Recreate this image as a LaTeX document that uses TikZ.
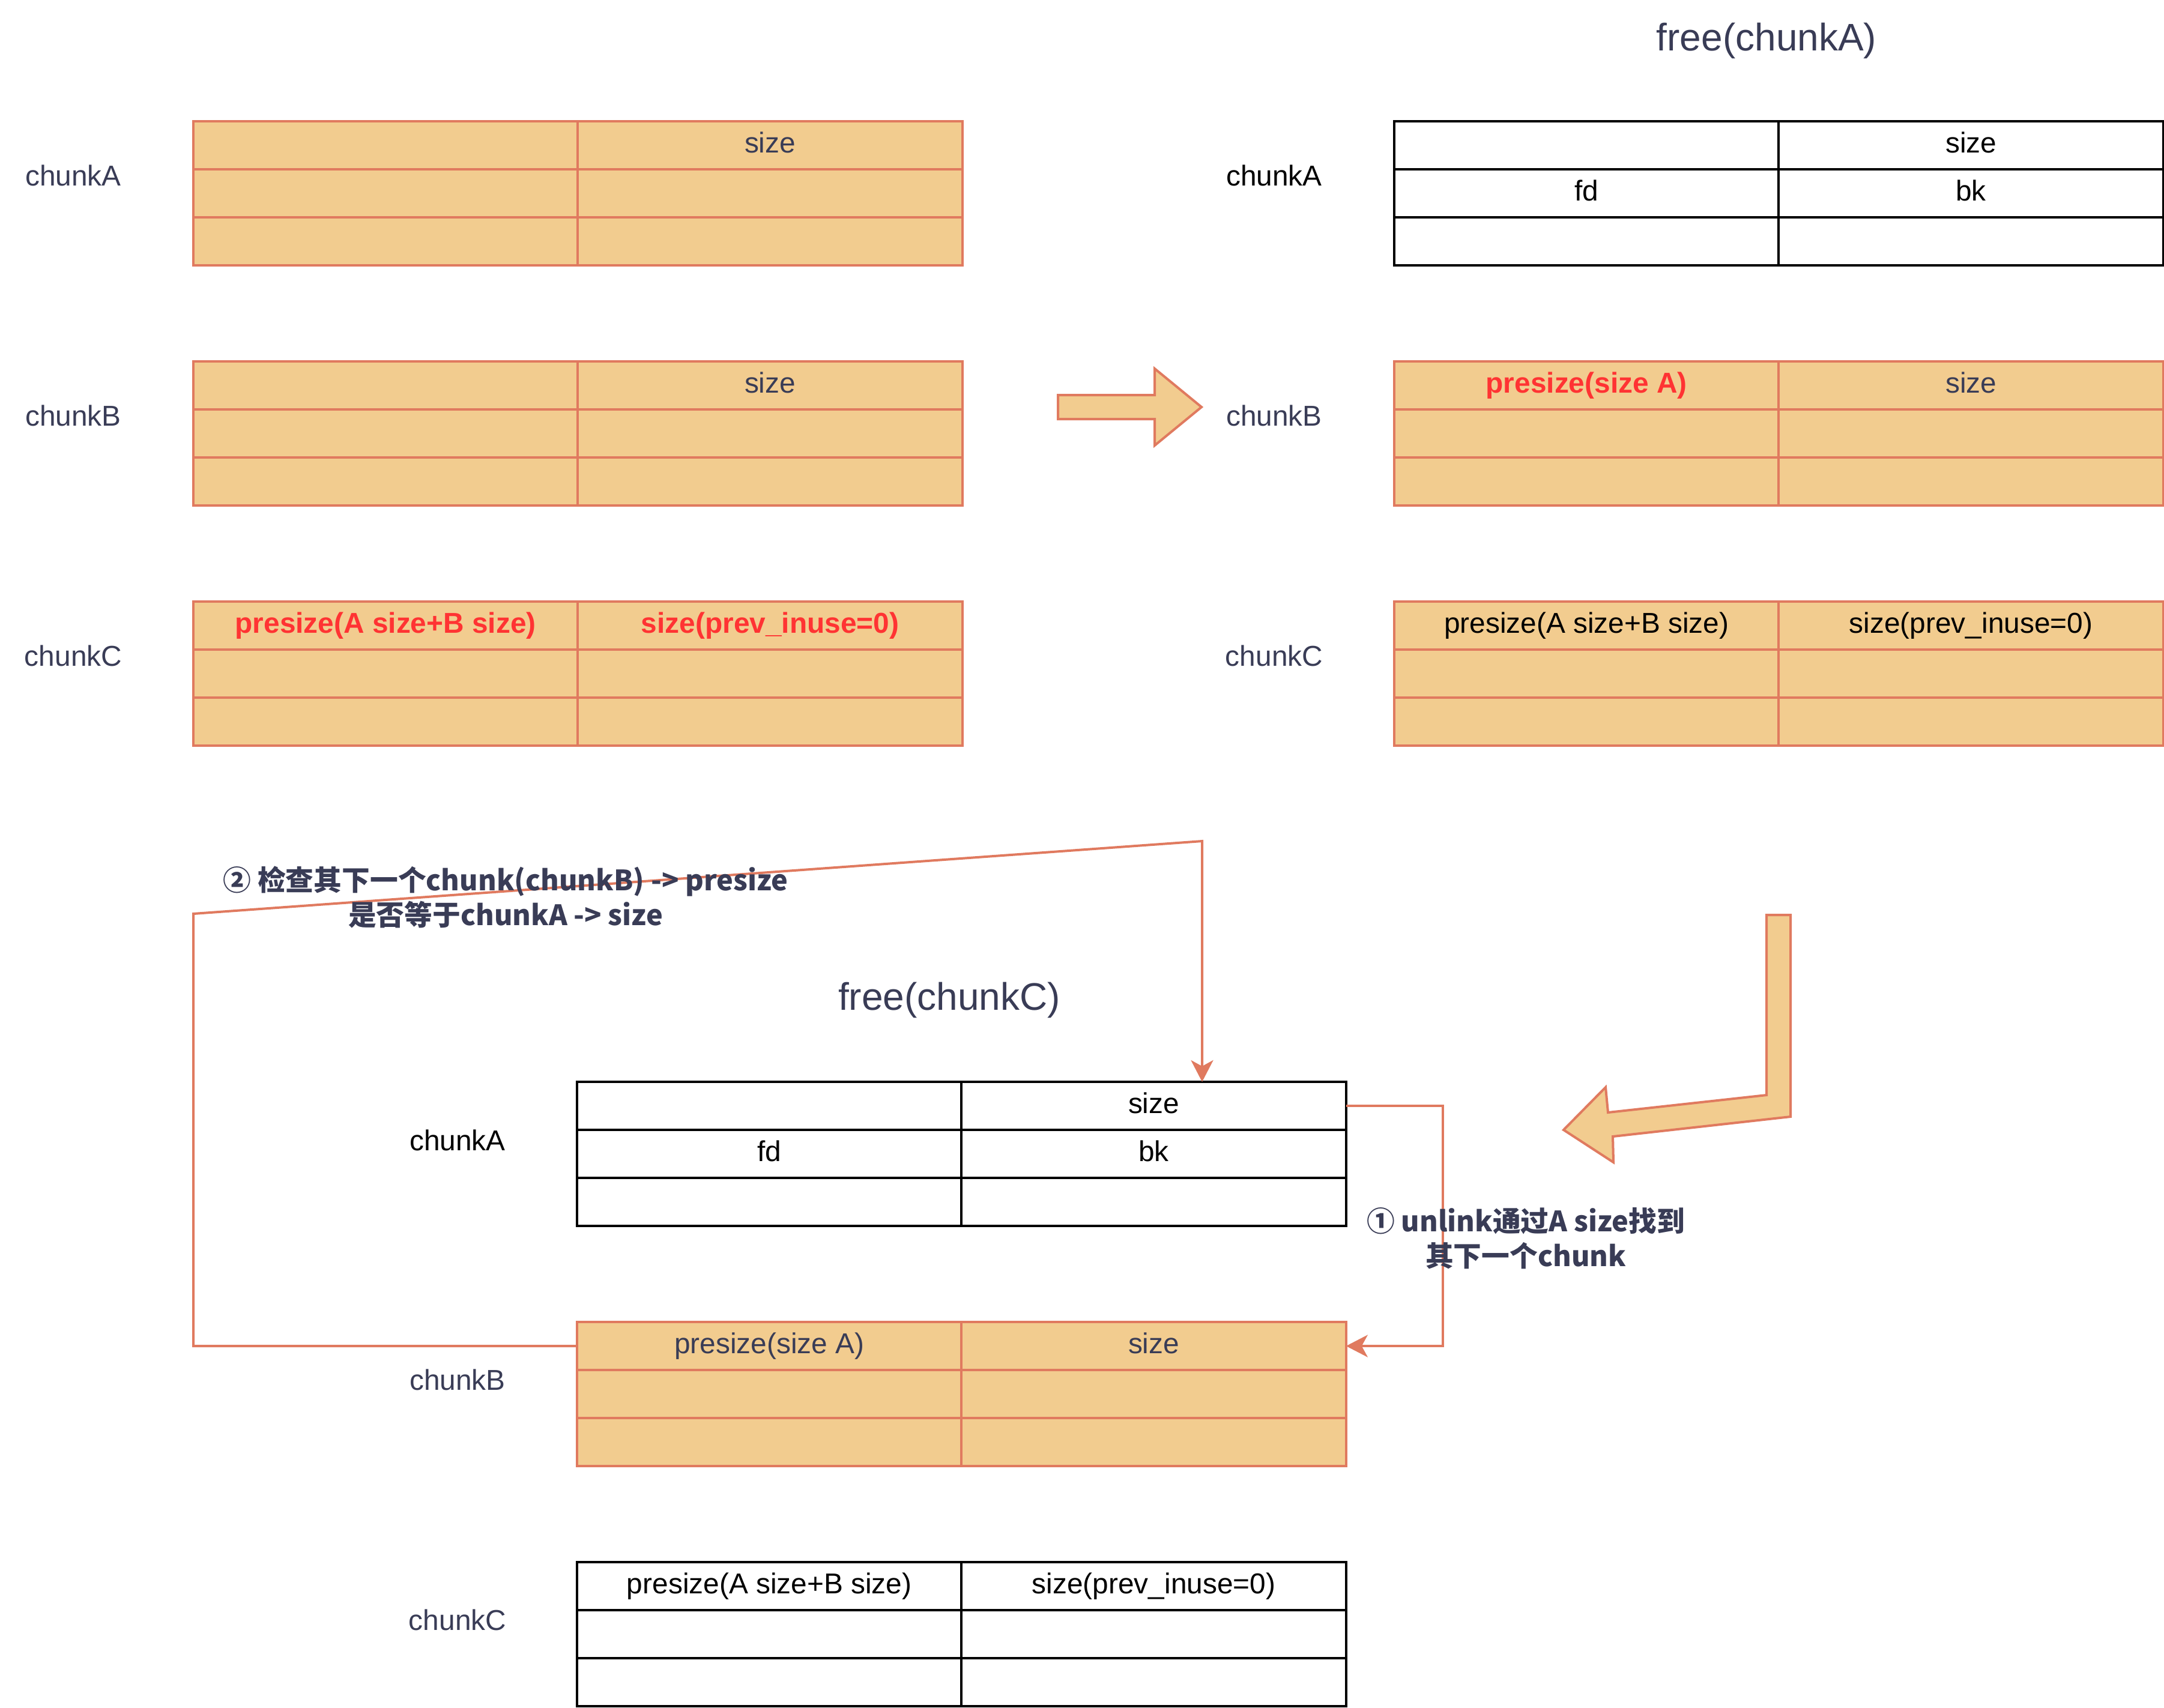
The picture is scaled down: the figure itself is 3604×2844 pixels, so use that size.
\documentclass[tikz,border=0pt]{standalone}
\usepackage{fontspec}
\setmainfont{Liberation Sans}
\newfontfamily\cjkfont{Noto Sans CJK SC}
\usetikzlibrary{arrows.meta}

\definecolor{navy}{HTML}{393C56}
\definecolor{chunkfill}{HTML}{F2CC8F}
\definecolor{chunkline}{HTML}{E07A5F}
\definecolor{hot}{HTML}{FF3333}

\tikzset{
  cell/.style={rectangle, minimum width=6.4cm, minimum height=0.8cm,
    inner sep=0pt, outer sep=0pt, anchor=north west, line width=0.04cm,
    text height=0.8em, text depth=0.08em,
    font=\fontsize{13.6}{16}\selectfont},
  used/.style={cell, draw=chunkline, fill=chunkfill, text=navy},
  freed/.style={cell, draw=black, fill=white, text=black},
  chunkname/.style={font=\fontsize{13.6}{16}\selectfont, text=navy, inner sep=0pt},
  heading/.style={font=\fontsize{18.2}{22}\selectfont, text=navy, inner sep=0pt},
  note/.style={font={\cjkfont\bfseries\fontsize{13.3}{16.5}\selectfont},
    text=navy, align=center, inner sep=0pt},
  conn/.style={draw=chunkline, line width=0.04cm},
  arrowend/.style={-{Stealth[length=0.36cm,width=0.37cm,inset=0.1cm]}},
  bigarrow/.style={draw=chunkline, fill=chunkfill, line width=0.04cm, line join=miter}
}

% one malloc chunk: 3 rows x 2 columns of cells
% #1 name prefix, #2/#3 top-left corner, #4 cell style, #5..#8 texts of rows 1-2
\newcommand\chunktab[8]{%
  \node[#4] (#1-11) at (#2,#3) {#5};
  \node[#4] (#1-12) at (#1-11.north east) {#6};
  \node[#4] (#1-21) at (#1-11.south west) {#7};
  \node[#4] (#1-22) at (#1-21.north east) {#8};
  \node[#4] (#1-31) at (#1-21.south west) {};
  \node[#4] (#1-32) at (#1-31.north east) {};
}

\begin{document}
\begin{tikzpicture}[x=0.01cm, y=-0.01cm]
\useasboundingbox (0,0) rectangle (3604,2844);

% ---- before free: three chunks in use
\chunktab{la}{322}{202}{used}{}{size}{}{}
\chunktab{lb}{322}{602}{used}{}{size}{}{}
\chunktab{lc}{322}{1002}{used}{{\color{hot}\bfseries presize(A size+B size)}}{{\color{hot}\bfseries size(prev\_inuse=0)}}{}{}

\node[chunkname] (la-name) at (122,292) {chunkA};
\node[chunkname] (lb-name) at (122,692) {chunkB};
\node[chunkname] (lc-name) at (122,1092) {chunkC};

% ---- after free(chunkA)
\node[heading] (title-a) at (2942,68) {free(chunkA)};
\chunktab{ra}{2322}{202}{freed}{}{size}{fd}{bk}
\chunktab{rb}{2322}{602}{used}{{\color{hot}\bfseries presize(size A)}}{size}{}{}
\chunktab{rc}{2322}{1002}{used}{{\color{black}presize(A size+B size)}}{{\color{black}size(prev\_inuse=0)}}{}{}

\node[chunkname, text=black] (ra-name) at (2122,292) {chunkA};
\node[chunkname] (rb-name) at (2122,692) {chunkB};
\node[chunkname] (rc-name) at (2122,1092) {chunkC};

% ---- free(chunkC): backward consolidation
\node[heading] (title-c) at (1581,1666) {free(chunkC)};
\chunktab{ba}{961}{1802}{freed}{}{size}{fd}{bk}
\chunktab{bb}{961}{2202}{used}{presize(size A)}{size}{}{}
\chunktab{bc}{961}{2602}{freed}{presize(A size+B size)}{size(prev\_inuse=0)}{}{}

\node[chunkname, text=black] (ba-name) at (762,1899) {chunkA};
\node[chunkname] (bb-name) at (762,2298) {chunkB};
\node[chunkname] (bc-name) at (762,2698) {chunkC};

% ---- step arrows between the states
\draw[bigarrow] (1762,658) -- (1923,658) -- (1923,614) -- (2001,678)
  -- (1923,742) -- (1923,698) -- (1762,698) -- cycle;
\draw[bigarrow] (2942,1524) -- (2982,1524) -- (2982,1860) -- (2686,1893)
  -- (2687,1936) -- (2604,1882) -- (2674,1811) -- (2678,1853) -- (2942,1824) -- cycle;

% ---- checks done by unlink
\draw[conn, arrowend] (ba-12.east) -- ++(161,0) |- (bb-12.east);

\coordinate (bend1) at (322,1522);
\coordinate (bend2) at (2002,1401);
\draw[conn, arrowend] (bb-11.west) -| (bend1) -- (bend2) -- (bend2 |- ba-12.north);

\node[note] (note2) at (842,1494) {② 检查其下一个chunk(chunkB) -> presize\\是否等于chunkA -> size};
\node[note] (note1) at (2541,2063) {① unlink通过A size找到\\其下一个chunk};
\end{tikzpicture}
\end{document}
